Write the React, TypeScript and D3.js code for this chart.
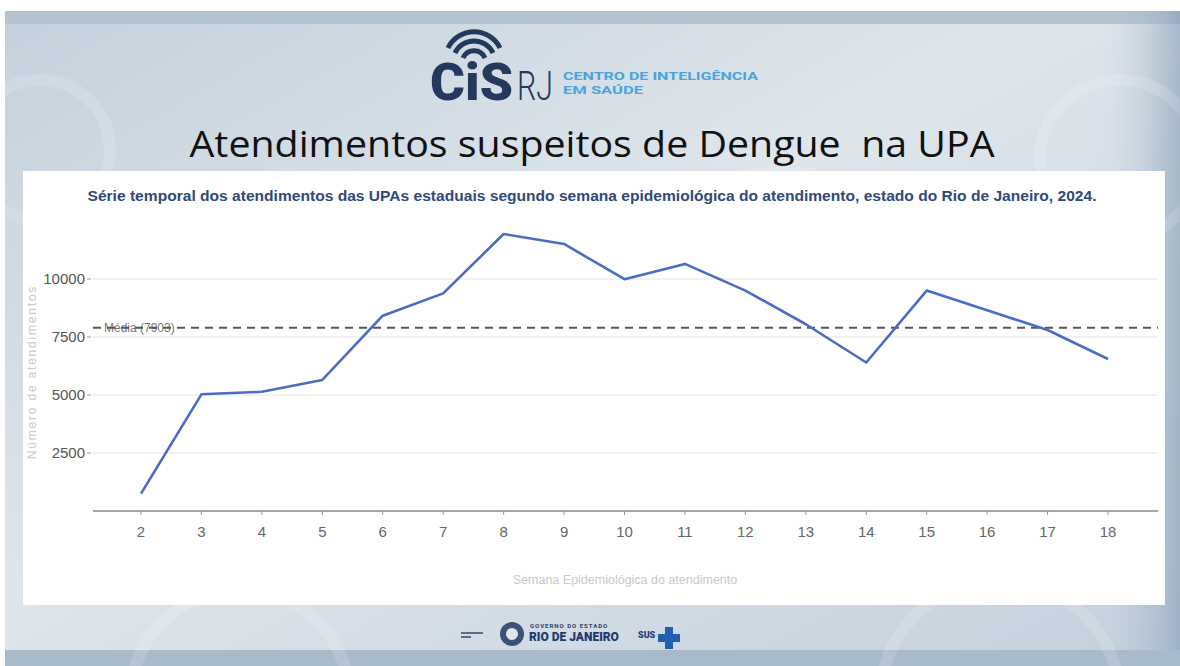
import { useMemo } from 'react';
import * as d3 from 'd3';

// weeks and suspected dengue visits at the state UPAs, RJ 2024
const weeks = [2, 3, 4, 5, 6, 7, 8, 9, 10, 11, 12, 13, 14, 15, 16, 17, 18];
const visits = [750, 5030, 5140, 5650, 8420, 9380, 11940, 11510, 9990, 10650, 9500, 8050, 6400, 9500, 8650, 7800, 6550];
const yTicks = [2500, 5000, 7500, 10000];
const meanValue = 7903;

const title = 'Atendimentos suspeitos de Dengue  na UPA';
const subtitle =
  'Série temporal dos atendimentos das UPAs estaduais segundo semana epidemiológica do atendimento, estado do Rio de Janeiro, 2024.';
const yLabel = 'Número de atendimentos';
const xLabel = 'Semana Epidemiológica do atendimento';

const W = 1180;
const H = 666;

const App = () => {
  const plot = { left: 93, right: 1158, top: 221, bottom: 511 };

  const xScale = useMemo(
    () => d3.scaleLinear().domain([2, 18]).range([141, 1108]),
    []
  );
  const yScale = useMemo(
    () => d3.scaleLinear().domain([0, 12500]).range([plot.bottom, plot.top]),
    []
  );

  const linePath = useMemo(() => {
    const line = d3
      .line<number>()
      .x((_: number, i: number) => xScale(weeks[i]))
      .y((d: number) => yScale(d));
    return line(visits) || '';
  }, [xScale, yScale]);

  const meanY = yScale(meanValue);
  const axisFont = '"Liberation Sans", Arial, sans-serif';

  return (
    <svg width={W} height={H} style={{ position: 'absolute', left: 0, top: 0, display: 'block' }}>
      <defs>
        <linearGradient id="bg" x1="0" y1="0" x2="1" y2="1">
          <stop offset="0%" stopColor="#c3d0db" />
          <stop offset="45%" stopColor="#dfe6ec" />
          <stop offset="100%" stopColor="#c2cfdb" />
        </linearGradient>
        <linearGradient id="edgeR" x1="0" y1="0" x2="1" y2="0">
          <stop offset="0%" stopColor="#c9d5df" stopOpacity={0} />
          <stop offset="100%" stopColor="#8ea4ba" />
        </linearGradient>
      </defs>

      {/* slide background */}
      <rect x={0} y={0} width={W} height={H} fill="#ffffff" />
      <rect x={5} y={11} width={W - 5} height={H - 11} fill="url(#bg)" />
      <rect x={5} y={11} width={W - 5} height={13} fill="#b3c2cf" />
      <rect x={1100} y={11} width={80} height={H - 11} fill="url(#edgeR)" opacity={0.7} />
      <rect x={5} y={650} width={W - 5} height={16} fill="#a9bacb" />
      <g fill="none" stroke="#ffffff" strokeOpacity={0.15} strokeWidth={12}>
        <circle cx={40} cy={150} r={70} />
        <circle cx={1120} cy={160} r={80} />
        <circle cx={240} cy={700} r={110} />
        <circle cx={1000} cy={700} r={120} />
      </g>

      {/* CIS RJ logo */}
      <g>
        <g fill="none" stroke="#233a5e" strokeWidth={5}>
          <path d="M 463 58 A 12 12 0 0 1 485 58" />
          <path d="M 455 53 A 21 21 0 0 1 493 53" />
          <path d="M 448 48 A 29 29 0 0 1 500 48" />
        </g>
        <text
          x={430}
          y={100}
          fontFamily="Roboto, Arial, sans-serif"
          fontWeight={900}
          fontSize={52}
          fill="#233a5e"
          textLength={83}
          lengthAdjust="spacingAndGlyphs"
        >
          CiS
        </text>
        <text x={517} y={100} fontFamily="Roboto, Arial, sans-serif" fontWeight={300} fontSize={40} fill="#233a5e" textLength={36} lengthAdjust="spacingAndGlyphs">
          RJ
        </text>
        <text x={563} y={80} fontFamily="Roboto, Arial, sans-serif" fontWeight={700} fontSize={11} fill="#4aa3dd" textLength={195} lengthAdjust="spacingAndGlyphs">
          CENTRO DE INTELIGÊNCIA
        </text>
        <text x={563} y={94} fontFamily="Roboto, Arial, sans-serif" fontWeight={700} fontSize={11} fill="#4aa3dd" textLength={80} lengthAdjust="spacingAndGlyphs">
          EM SAÚDE
        </text>
      </g>

      {/* slide title */}
      <text
        x={592}
        y={157}
        textAnchor="middle"
        fontFamily='"Open Sans", Lato, sans-serif'
        fontSize={37}
        fill="#111111"
        style={{ whiteSpace: 'pre' }}
        textLength={805}
        lengthAdjust="spacingAndGlyphs"
      >
        {title}
      </text>

      {/* chart panel */}
      <rect x={23} y={171} width={1142} height={434} fill="#ffffff" />
      <text
        x={592}
        y={201}
        textAnchor="middle"
        fontFamily={axisFont}
        fontWeight={700}
        fontSize={14}
        fill="#2f4a7a"
        textLength={1009}
        lengthAdjust="spacingAndGlyphs"
      >
        {subtitle}
      </text>

      {/* gridlines and y axis */}
      {yTicks.map((t) => (
        <g key={t}>
          <line x1={plot.left} x2={plot.right} y1={yScale(t)} y2={yScale(t)} stroke="#e4e4e4" strokeWidth={1.2} />
          <line x1={87} x2={91} y1={yScale(t)} y2={yScale(t)} stroke="#999" />
          <text x={85} y={yScale(t)} dy="0.35em" textAnchor="end" fontFamily={axisFont} fontSize={15} fill="#555">
            {t}
          </text>
        </g>
      ))}
      <text
        transform={`translate(36, ${(yScale(2500) + yScale(10000)) / 2 + 6}) rotate(-90)`}
        textAnchor="middle"
        fontFamily={axisFont}
        fontSize={12}
        letterSpacing={1.8}
        fill="#c9c9c9"
      >
        {yLabel}
      </text>

      {/* x axis */}
      <line x1={plot.left} x2={plot.right} y1={plot.bottom} y2={plot.bottom} stroke="#8a8a8a" strokeWidth={1.5} />
      {weeks.map((w) => (
        <g key={w}>
          <line x1={xScale(w)} x2={xScale(w)} y1={plot.bottom} y2={plot.bottom + 4} stroke="#999" />
          <text x={xScale(w)} y={plot.bottom + 26} textAnchor="middle" fontFamily={axisFont} fontSize={15} fill="#666">
            {w}
          </text>
        </g>
      ))}
      <text x={625} y={584} textAnchor="middle" fontFamily={axisFont} fontSize={12.5} fill="#c9c9c9">
        {xLabel}
      </text>

      {/* mean reference */}
      <text x={104} y={meanY} dy="0.35em" fontFamily={axisFont} fontSize={12} fill="#777">
        {`Média (${meanValue})`}
      </text>
      <line
        x1={plot.left}
        x2={plot.right}
        y1={meanY}
        y2={meanY}
        stroke="#555"
        strokeWidth={2}
        strokeDasharray="8 6"
      />

      {/* series */}
      <path d={linePath} fill="none" stroke="#4a6cc4" strokeWidth={2.6} strokeLinejoin="round" />

      {/* footer logos */}
      <g fontFamily="Roboto, Arial, sans-serif">
        <rect x={461} y={632} width={22} height={2} fill="#5a6f8a" />
        <rect x={461} y={636} width={10} height={2} fill="#5a6f8a" />
        <circle cx={512} cy={634} r={12} fill="#3c5277" />
        <circle cx={512} cy={634} r={6} fill="#dfe6ec" />
        <text x={530} y={628} fontSize={6} fontWeight={700} fill="#2c4066" letterSpacing={1}>
          GOVERNO DO ESTADO
        </text>
        <text x={529} y={641} fontSize={12} fontWeight={900} fill="#1f3a6e">
          RIO DE JANEIRO
        </text>
        <text x={638} y={638} fontSize={9} fontWeight={900} fill="#1f3a6e">
          SUS
        </text>
        <rect x={665} y={627} width={8} height={22} fill="#1f5fae" />
        <rect x={658} y={634} width={22} height={8} fill="#1f5fae" />
      </g>
    </svg>
  );
};

export default App;
